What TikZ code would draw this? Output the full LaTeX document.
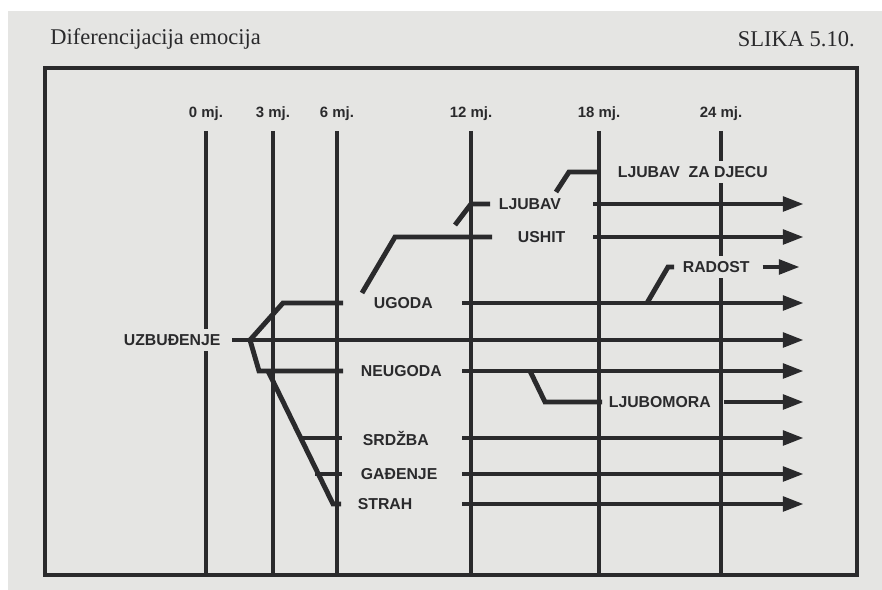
\documentclass[tikz,border=0pt]{standalone}
\usepackage{fontspec}
\setmainfont{Liberation Serif}
\newfontfamily\labelfont{Liberation Sans}
\usetikzlibrary{arrows.meta, positioning, calc}
\definecolor{page}{RGB}{229,229,227}
\definecolor{ink}{RGB}{42,42,44}

\begin{document}
\begin{tikzpicture}[
    x=0.02cm, y=-0.02cm,
    month/.style={font=\labelfont\bfseries\fontsize{8.5}{10}\selectfont, text=ink, inner sep=1pt, anchor=base},
    emotion/.style={font=\labelfont\bfseries\fontsize{9}{11}\selectfont, text=ink, fill=page, inner xsep=2pt, inner ysep=3pt, anchor=west},
    age/.style={draw=ink, line width=2pt},
    emoline/.style={draw=ink, line width=2.8pt},
    flow/.style={emoline, -{Triangle[length=12pt, width=8pt]}}
]
    \useasboundingbox (0,0) rectangle (882,590);
    \fill[white] (0,0) rectangle (882,590);
    \fill[page] (8,11) rectangle (882,590);

    % heading and frame
    \node[anchor=base west, text=ink, inner sep=0pt, font=\fontsize{12.8}{15}\selectfont] (title) at (50,45) {Diferencijacija emocija};
    \node[anchor=base east, text=ink, inner sep=0pt, font=\fontsize{12.8}{15}\selectfont] (figno) at (855,47) {SLIKA 5.10.};
    \draw[ink, line width=2pt] (45,68) rectangle (857,575);

    % ages
    \coordinate (top) at (0,131);
    \coordinate (bottom) at (0,575);
    \coordinate (tip) at (804,0);
    \foreach \x/\m/\name in {206/0/m0, 273/3/m3, 337/6/m6, 471/12/m12, 599/18/m18, 721/24/m24}
        \node[month] (\name) at (\x,118) {\m\ mj.};
    \foreach \name in {m0, m3, m6, m12, m18, m24}
        \draw[age] (\name |- top) -- (\name |- bottom);

    % emotions
    \node[emotion] (uzb) at (120,340) {UZBUĐENJE};
    \node[emotion] (ugoda) at (370,303) {UGODA};
    \node[emotion] (neugoda) at (357,371) {NEUGODA};
    \node[emotion] (srdzba) at (359,438) {SRDŽBA};
    \node[emotion] (gadenje) at (357,474) {GAĐENJE};
    \node[emotion] (strah) at (354,504) {STRAH};
    \node[emotion] (ushit) at (514,237) {USHIT};
    \node[emotion] (ljubav) at (495,204) {LJUBAV};
    \node[emotion] (djeca) at (614,172) {LJUBAV\ \ ZA DJECU};
    \node[emotion] (radost) at (679,267) {RADOST};
    \node[emotion] (ljubomora) at (605,402) {LJUBOMORA};

    \coordinate (fork) at (250,340);
    \coordinate (split) at (268,371);

    \draw[flow] ($(uzb.east)+(8,0)$) -- (tip |- uzb);

    \draw[emoline] (fork) -- (283,303) -- (343,303);
    \draw[flow] ($(m12 |- ugoda)+(-9,0)$) -- (tip |- ugoda);
    \draw[emoline] (647,303) -- (668,267) -- (674,267);
    \draw[flow] ($(radost.east)+(9,0)$) -- ($(tip |- radost)+(-4,0)$);
    \draw[emoline] (362,293) -- (395,237) -- (492,237);
    \draw[flow] ($(m18 |- ushit)+(-6,0)$) -- (tip |- ushit);
    \draw[emoline] (455,225) -- (471,204) -- (490,204);
    \draw[flow] ($(m18 |- ljubav)+(-6,0)$) -- (tip |- ljubav);
    \draw[emoline] (556,192) -- (569,172) -- (m18 |- djeca);

    \draw[emoline] (fork) -- (259,371) -- (343,371);
    \draw[flow] ($(m12 |- neugoda)+(-9,0)$) -- (tip |- neugoda);
    \draw[emoline] (530,371) -- (545,402) -- (602,402);
    \draw[flow] ($(m24 |- ljubomora)+(3,0)$) -- (tip |- ljubomora);

    \draw[emoline] (split) -- (333,504) -- (341,504);
    \draw[emoline] (300,438) -- (342,438);
    \draw[emoline] (315,474) -- (342,474);
    \foreach \e in {srdzba, gadenje, strah}
        \draw[flow] ($(m12 |- \e)+(-9,0)$) -- (tip |- \e);
\end{tikzpicture}
\end{document}
